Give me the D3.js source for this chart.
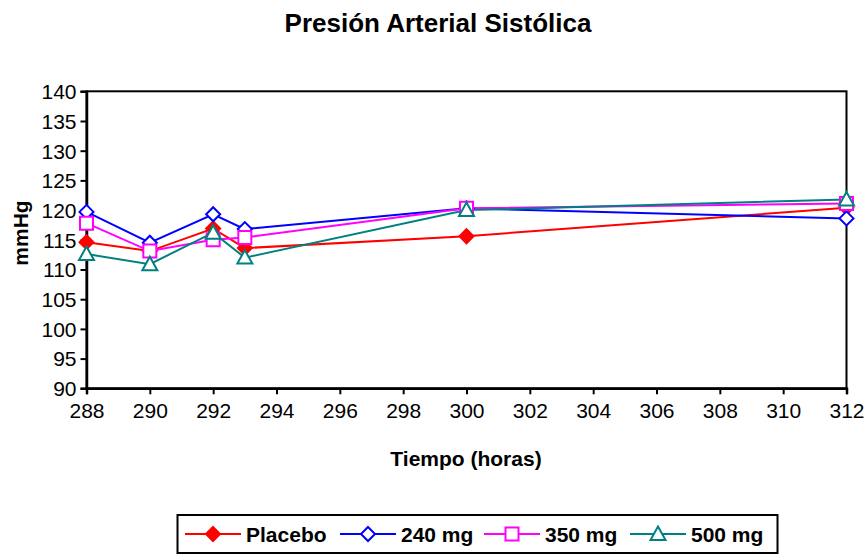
<!DOCTYPE html>
<html>
<head>
<meta charset="utf-8">
<script src="https://cdn.jsdelivr.net/npm/d3@7"></script>
<style>
  body { margin: 0; background: #fff; }
  svg { font-family: "Liberation Sans", Arial, sans-serif; }
  .tick text { font-size: 21px; fill: #000; }
</style>
</head>
<body>
<svg width="868" height="557"></svg>
<script>
// data
var hours = [288, 290, 292, 293, 300, 312]
var placebo = [114.6, 113.1, 116.9, 113.6, 115.6, 120.4]
var mg240 = [119.7, 114.5, 119.3, 116.8, 120.3, 118.6]
var mg350 = [117.8, 113.1, 115.0, 115.4, 120.3, 121.1]
var mg500 = [112.6, 110.9, 116.2, 112.0, 120.0, 121.8]
var seriesNames = ['Placebo', '240 mg', '350 mg', '500 mg']
var yTicks = [90, 95, 100, 105, 110, 115, 120, 125, 130, 135, 140]
var xTicks = [288, 290, 292, 294, 296, 298, 300, 302, 304, 306, 308, 310, 312]

var series = [
	{ name: seriesNames[0], values: placebo, color: '#ff0000', shape: 'diamond', fill: true },
	{ name: seriesNames[1], values: mg240, color: '#0000ff', shape: 'diamond', fill: false },
	{ name: seriesNames[2], values: mg350, color: '#ff00ff', shape: 'square', fill: false },
	{ name: seriesNames[3], values: mg500, color: '#008080', shape: 'triangle', fill: false }
]

var svg = d3.select('svg')
var plotL = 86.5, plotR = 846.5, plotT = 91.3, plotB = 388.3

var x = d3.scaleLinear().domain([288, 312]).range([plotL, plotR])
var y = d3.scaleLinear().domain([90, 140]).range([plotB, plotT])

// title
svg.append('text')
	.attr('x', 438).attr('y', 32)
	.attr('text-anchor', 'middle')
	.style('font-size', '26px').style('font-weight', 'bold')
	.text('Presión Arterial Sistólica')

// plot border
svg.append('rect')
	.attr('x', plotL).attr('y', plotT)
	.attr('width', plotR - plotL).attr('height', plotB - plotT)
	.attr('fill', 'none').attr('stroke', '#000').attr('stroke-width', 2)

// axes
var gx = svg.append('g')
	.attr('transform', 'translate(0,' + plotB + ')')
	.call(d3.axisBottom(x).tickValues(xTicks).tickSize(6).tickPadding(4).tickFormat(d3.format('d')))
var gy = svg.append('g')
	.attr('transform', 'translate(' + plotL + ',0)')
	.call(d3.axisLeft(y).tickValues(yTicks).tickSize(6).tickPadding(4))
;[gx, gy].forEach(function(g) {
	g.select('.domain').attr('stroke-width', 2.5)
	g.selectAll('.tick line').attr('stroke-width', 2)
})
gx.selectAll('.tick text').attr('dy', '0.95em')
gy.selectAll('.tick text').attr('dy', '0.35em')

// axis titles
svg.append('text')
	.attr('x', 466).attr('y', 466)
	.attr('text-anchor', 'middle')
	.style('font-size', '21px').style('font-weight', 'bold')
	.text('Tiempo (horas)')
svg.append('text')
	.attr('transform', 'translate(28,233) rotate(-90)')
	.attr('text-anchor', 'middle')
	.style('font-size', '21px').style('font-weight', 'bold')
	.text('mmHg')

function markerPath(shape) {
	if (shape === 'diamond') return 'M0,-7L7,0L0,7L-7,0Z'
	if (shape === 'square') return 'M-6.5,-6.5H6.5V6.5H-6.5Z'
	return 'M0,-7.5L7.5,6L-7.5,6Z'
}

var line = d3.line()
	.x(function(d, i) { return x(hours[i]) })
	.y(function(d) { return y(d) })

series.forEach(function(s) {
	svg.append('path')
		.datum(s.values)
		.attr('d', line)
		.attr('fill', 'none')
		.attr('stroke', s.color)
		.attr('stroke-width', 2)
})
series.forEach(function(s) {
	svg.selectAll(null)
		.data(s.values)
		.enter().append('path')
		.attr('transform', function(d, i) { return 'translate(' + x(hours[i]) + ',' + y(d) + ')' })
		.attr('d', markerPath(s.shape))
		.attr('fill', s.fill ? s.color : '#fff')
		.attr('stroke', s.color)
		.attr('stroke-width', 2)
})

// legend
var lg = svg.append('g')
lg.append('rect')
	.attr('x', 177.5).attr('y', 515)
	.attr('width', 600).attr('height', 38)
	.attr('fill', '#fff').attr('stroke', '#000').attr('stroke-width', 2)
var legendX = [185, 340, 484, 630]
series.forEach(function(s, i) {
	var g = lg.append('g').attr('transform', 'translate(' + legendX[i] + ',534)')
	g.append('line').attr('x1', 0).attr('x2', 56)
		.attr('stroke', s.color).attr('stroke-width', 2)
	g.append('path')
		.attr('transform', 'translate(28,0)')
		.attr('d', markerPath(s.shape))
		.attr('fill', s.fill ? s.color : '#fff')
		.attr('stroke', s.color).attr('stroke-width', 2)
	g.append('text')
		.attr('x', 61).attr('y', 7.5)
		.style('font-size', '21px').style('font-weight', 'bold')
		.text(s.name)
})
</script>
</body>
</html>
